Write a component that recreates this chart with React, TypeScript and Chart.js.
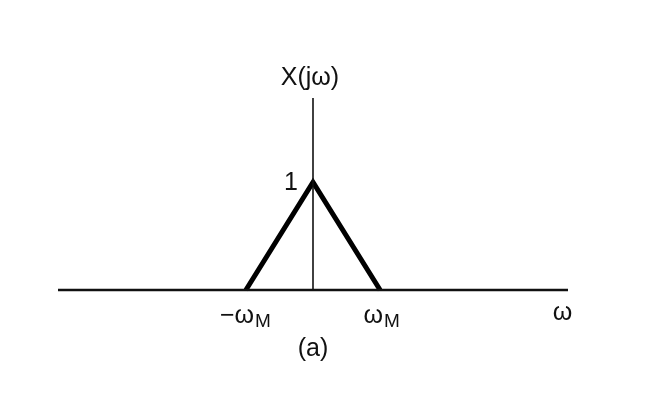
import React, { useEffect, useRef } from "react";
import { Chart, registerables } from "chart.js";

Chart.register(...registerables);

// Data (ω in units of ωM)
const spectrumX = [-1, 0, 1];
const spectrumY = [0, 1, 0];
const axisXRange = [-3.8, 3.8];
const axisYTop = 1.78;
const tickPositions = [-1, 1];
const tickMain = ["\u2212\u03c9", "\u03c9"];
const tickSub = ["M", "M"];
const peakLabel = "1";
const yAxisTitle = "X(j\u03c9)";
const xAxisTitle = "\u03c9";
const xAxisTitlePos = 3.72;
const caption = "(a)";

const FONT = "'Liberation Sans', Arial, Helvetica, sans-serif";
const MAIN = 25;
const SUB = 19;

const labelPlugin = {
  id: "labels",
  afterDraw(chart: any) {
    const ctx = chart.ctx;
    const xs = chart.scales.x;
    const ys = chart.scales.y;
    const x0 = xs.getPixelForValue(0);
    const yBase = ys.getPixelForValue(0);
    ctx.save();
    ctx.fillStyle = "#111";
    ctx.textBaseline = "alphabetic";
    // y-axis title
    ctx.font = `${MAIN}px ${FONT}`;
    ctx.textAlign = "center";
    ctx.fillText(yAxisTitle, x0 - 3, ys.getPixelForValue(axisYTop) - 13);
    // peak label
    ctx.textAlign = "right";
    ctx.fillText(peakLabel, x0 - 15, ys.getPixelForValue(1) + 8);
    // tick labels with subscript
    tickPositions.forEach((v, i) => {
      const px = xs.getPixelForValue(v);
      ctx.font = `${MAIN}px ${FONT}`;
      const wMain = ctx.measureText(tickMain[i]).width;
      ctx.font = `${SUB}px ${FONT}`;
      const wSub = ctx.measureText(tickSub[i]).width;
      const total = wMain + wSub;
      const startX = px - total / 2 + (i === 0 ? -1 : 1);
      ctx.textAlign = "left";
      ctx.font = `${MAIN}px ${FONT}`;
      ctx.fillText(tickMain[i], startX, yBase + 33);
      ctx.font = `${SUB}px ${FONT}`;
      ctx.fillText(tickSub[i], startX + wMain + 1, yBase + 37);
    });
    // x-axis title
    ctx.font = `${MAIN}px ${FONT}`;
    ctx.textAlign = "center";
    ctx.fillText(xAxisTitle, xs.getPixelForValue(xAxisTitlePos), yBase + 30);
    // caption
    ctx.fillText(caption, x0, yBase + 66);
    ctx.restore();
  },
};

export default function App() {
  const ref = useRef<HTMLCanvasElement>(null);
  useEffect(() => {
    if (!ref.current) return;
    const chart = new Chart(ref.current, {
      type: "scatter",
      data: {
        datasets: [
          {
            data: axisXRange.map((x) => ({ x, y: 0 })),
            showLine: true,
            borderColor: "#111",
            borderWidth: 2.5,
            pointRadius: 0,
            clip: false as any,
          },
          {
            data: [
              { x: 0, y: 0 },
              { x: 0, y: axisYTop },
            ],
            showLine: true,
            borderColor: "#111",
            borderWidth: 1.6,
            pointRadius: 0,
            clip: false as any,
          },
          {
            data: spectrumX.map((x, i) => ({ x, y: spectrumY[i] })),
            showLine: true,
            borderColor: "#000",
            borderWidth: 5,
            borderJoinStyle: "miter",
            pointRadius: 0,
            clip: false as any,
          },
        ],
      },
      options: {
        responsive: false,
        animation: false,
        layout: { padding: { left: 58, right: 77, top: 98, bottom: 128 } },
        plugins: { legend: { display: false }, tooltip: { enabled: false } },
        scales: {
          x: { type: "linear", min: axisXRange[0], max: axisXRange[1], display: false },
          y: { type: "linear", min: 0, max: axisYTop, display: false },
        },
      },
      plugins: [labelPlugin],
    });
    return () => chart.destroy();
  }, []);
  return (
    <div style={{ position: "fixed", left: 0, top: 0, width: 645, height: 418, background: "#fff" }}>
      <canvas ref={ref} width={645} height={418} />
    </div>
  );
}
